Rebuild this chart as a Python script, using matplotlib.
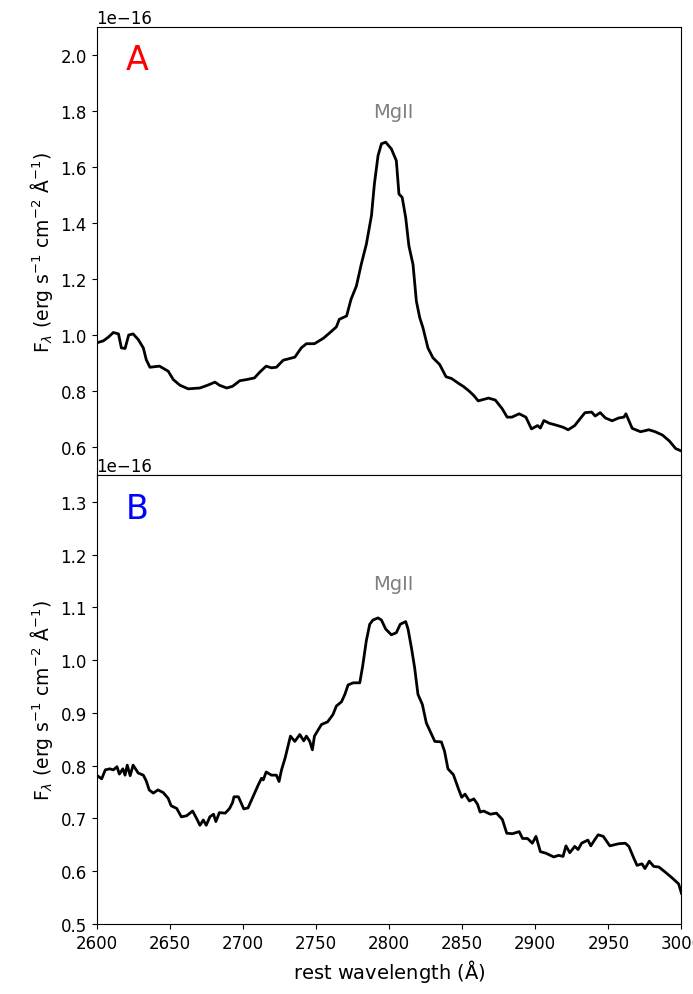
import numpy as np
import matplotlib
matplotlib.use("Agg")
import matplotlib.pyplot as plt

# spectrum A (rest wavelength in Angstrom, flux in units of 1e-16)
wave_a = [2600, 2604.6, 2608, 2611.5, 2615, 2617, 2619.5, 2622, 2625, 2628.5,
          2632, 2634, 2636.5, 2643, 2649, 2652.5, 2657, 2662.7, 2670.7, 2676,
          2681, 2684, 2689, 2693, 2698, 2702.6, 2708, 2711.7, 2716, 2719.6,
          2723, 2727.6, 2735.6, 2740, 2743.5, 2749, 2755, 2759.5, 2764, 2766,
          2771, 2774, 2777.7, 2781, 2784.5, 2788, 2790, 2792.5, 2794.8, 2797.7,
          2801.6, 2805, 2806.8, 2809, 2811.4, 2813.6, 2816.4, 2818.7, 2821, 2823.2,
          2826.6, 2830, 2834.6, 2839, 2842.7, 2848, 2851, 2855, 2858, 2861,
          2868, 2872.7, 2877.4, 2880.8, 2884, 2889, 2893.6, 2897.4, 2901.6, 2903.5,
          2905.9, 2909.7, 2914, 2919, 2922.5, 2927, 2930.6, 2934, 2938.6, 2941,
          2944.4, 2948, 2952.6, 2957, 2960.6, 2962, 2966.3, 2972, 2977.7, 2982,
          2987, 2991.7, 2996, 3000]
flux_a = [0.973, 0.98, 0.993, 1.010, 1.005, 0.955, 0.953, 1.001, 1.005, 0.985,
          0.955, 0.913, 0.886, 0.89, 0.872, 0.842, 0.822, 0.809, 0.812, 0.822,
          0.833, 0.822, 0.812, 0.818, 0.838, 0.842, 0.848, 0.869, 0.89, 0.884,
          0.886, 0.911, 0.922, 0.955, 0.970, 0.970, 0.989, 1.009, 1.030, 1.057,
          1.069, 1.128, 1.176, 1.253, 1.325, 1.427, 1.540, 1.641, 1.683, 1.689,
          1.665, 1.623, 1.504, 1.492, 1.420, 1.319, 1.253, 1.122, 1.063, 1.027,
          0.955, 0.920, 0.896, 0.852, 0.846, 0.827, 0.817, 0.800, 0.785, 0.766,
          0.776, 0.769, 0.738, 0.708, 0.708, 0.720, 0.708, 0.666, 0.678, 0.669,
          0.696, 0.686, 0.680, 0.672, 0.663, 0.678, 0.702, 0.724, 0.726, 0.712,
          0.724, 0.705, 0.695, 0.705, 0.708, 0.720, 0.668, 0.656, 0.663, 0.656,
          0.644, 0.623, 0.596, 0.587]

# spectrum B
wave_b = [2600, 2603.5, 2606, 2609, 2611.5, 2614, 2615.6, 2618, 2619.5, 2621,
          2623, 2625, 2628.5, 2632, 2634, 2636, 2638.8, 2642, 2645.6, 2649,
          2651, 2654.8, 2658, 2661.6, 2665.7, 2668.4, 2670.7, 2673, 2675, 2677.5,
          2680, 2681.6, 2684, 2688, 2691, 2693, 2694, 2697, 2700.7, 2703.6,
          2707, 2710.5, 2712.8, 2714, 2716, 2719.6, 2723, 2724.8, 2726.5, 2729,
          2732.6, 2735.6, 2739, 2741.7, 2743.5, 2745.8, 2747.6, 2749, 2753.8, 2758,
          2761.7, 2764, 2767.5, 2769.8, 2772, 2775.5, 2780, 2782, 2784.5, 2786.8,
          2789, 2792.5, 2794.8, 2797.7, 2801.6, 2805, 2807.7, 2811.4, 2813, 2815.3,
          2817.5, 2819.8, 2822.8, 2825.5, 2831.3, 2835.8, 2838, 2840.3, 2844, 2847.5,
          2849.7, 2852, 2855, 2858, 2860.5, 2862.3, 2864.7, 2869.3, 2873.5, 2877.5,
          2880.5, 2884.4, 2889, 2891.3, 2894.7, 2898, 2900.5, 2903.5, 2907.4, 2912.6,
          2916, 2919, 2921, 2923.6, 2927, 2929.3, 2931.7, 2936, 2938, 2941,
          2943, 2946.5, 2951, 2957, 2961.6, 2964, 2967.5, 2969.6, 2973, 2975,
          2978, 2981, 2984.5, 2989, 2993.7, 2998, 3000]
flux_b = [0.782, 0.775, 0.792, 0.794, 0.792, 0.798, 0.784, 0.794, 0.782, 0.801,
          0.781, 0.801, 0.786, 0.782, 0.771, 0.754, 0.748, 0.754, 0.749, 0.738,
          0.724, 0.719, 0.703, 0.705, 0.714, 0.700, 0.687, 0.697, 0.687, 0.703,
          0.708, 0.694, 0.711, 0.710, 0.719, 0.730, 0.741, 0.741, 0.718, 0.720,
          0.741, 0.763, 0.776, 0.773, 0.788, 0.782, 0.782, 0.770, 0.792, 0.815,
          0.856, 0.846, 0.859, 0.847, 0.856, 0.846, 0.830, 0.856, 0.878, 0.883,
          0.897, 0.913, 0.921, 0.935, 0.953, 0.957, 0.957, 0.989, 1.037, 1.068,
          1.076, 1.080, 1.076, 1.059, 1.048, 1.052, 1.068, 1.073, 1.059, 1.024,
          0.986, 0.935, 0.916, 0.881, 0.846, 0.845, 0.827, 0.794, 0.783, 0.756,
          0.740, 0.746, 0.733, 0.737, 0.727, 0.712, 0.714, 0.708, 0.710, 0.698,
          0.672, 0.671, 0.675, 0.662, 0.662, 0.653, 0.666, 0.637, 0.634, 0.627,
          0.630, 0.628, 0.648, 0.635, 0.647, 0.641, 0.653, 0.659, 0.648, 0.661,
          0.669, 0.666, 0.648, 0.652, 0.653, 0.647, 0.624, 0.611, 0.614, 0.605,
          0.619, 0.609, 0.608, 0.598, 0.587, 0.576, 0.558]

panels = ["A", "B"]
panel_colors = ["red", "blue"]
line_label = "MgII"
label_pos_a = (2803, 1.778e-16)
label_pos_b = (2803, 1.135e-16)

fig, (ax1, ax2) = plt.subplots(2, 1, figsize=(6.93, 9.95), dpi=100, sharex=True)
fig.subplots_adjust(left=0.1393, right=0.9834, top=0.9719, bottom=0.0704, hspace=0)

ylab = r"F$_\lambda$ (erg s$^{-1}$ cm$^{-2}$ $\rm\AA^{-1}$)"

ax1.plot(wave_a, np.array(flux_a) * 1e-16, color="black", lw=2)
ax1.set_ylim(0.5e-16, 2.1e-16)
ax1.set_yticks(np.arange(0.6, 2.01, 0.2) * 1e-16)
ax1.text(0.07, 0.928, panels[0], color=panel_colors[0], fontsize=24,
         transform=ax1.transAxes, ha="center", va="center")
ax1.text(label_pos_a[0], label_pos_a[1], line_label, color="gray", fontsize=14,
         ha="center", va="baseline")
ax1.set_ylabel(ylab, fontsize=13.5)

ax2.plot(wave_b, np.array(flux_b) * 1e-16, color="black", lw=2)
ax2.set_ylim(0.5e-16, 1.35e-16)
ax2.set_yticks(np.arange(0.5, 1.31, 0.1) * 1e-16)
ax2.text(0.07, 0.926, panels[1], color=panel_colors[1], fontsize=24,
         transform=ax2.transAxes, ha="center", va="center")
ax2.text(label_pos_b[0], label_pos_b[1], line_label, color="gray", fontsize=14,
         ha="center", va="baseline")
ax2.set_ylabel(ylab, fontsize=13.5)

ax2.set_xlim(2600, 3000)
ax2.set_xticks(np.arange(2600, 3001, 50))
ax2.set_xlabel(r"rest wavelength ($\rm\AA$)", fontsize=14)

for ax in (ax1, ax2):
    ax.tick_params(labelsize=12)
    ax.yaxis.get_offset_text().set_fontsize(12)

plt.savefig("out.png", dpi=100)
